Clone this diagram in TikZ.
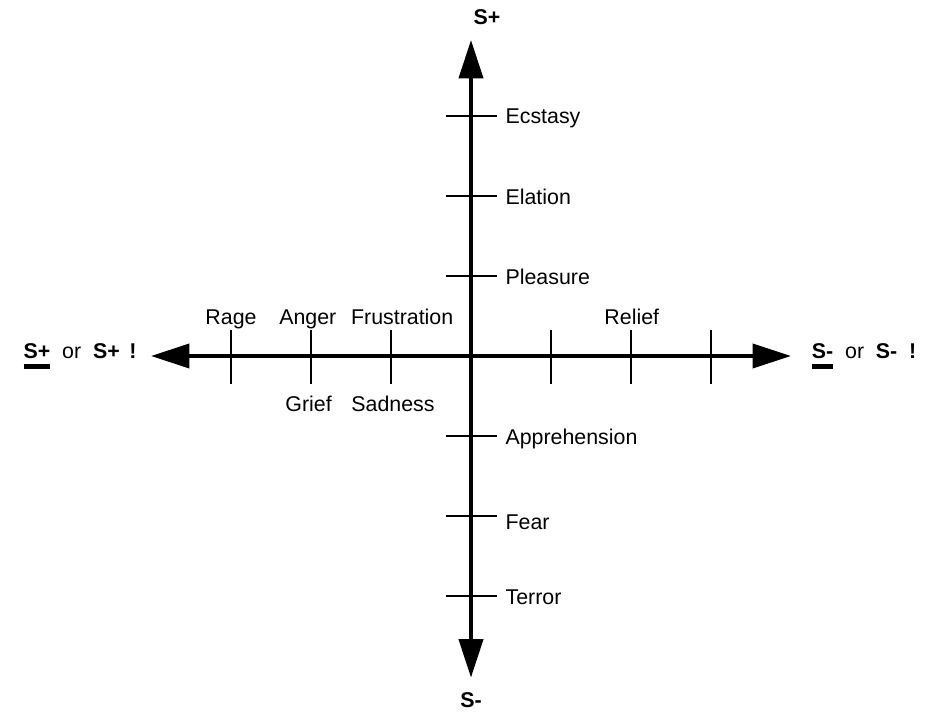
\documentclass[tikz,border=0pt]{standalone}
\usepackage{fontspec}
\setmainfont{Liberation Sans}
\usetikzlibrary{arrows.meta}

\newcommand\ulbar[1]{\setbox0\hbox{#1}\rlap{\rule[-3.8pt]{\wd0}{1.7pt}}\box0\relax}
\newcommand\gap{\hspace{4.2pt}}

\begin{document}
\begin{tikzpicture}[font=\fontsize{7.6}{9}\selectfont,
    axis/.style={line width=1.4pt, {Triangle[length=4.8mm,width=3mm]}-{Triangle[length=4.8mm,width=3mm]}},
    ticklines/.style={line width=0.45pt},
    lbl/.style={inner sep=1pt}]

    \useasboundingbox (-5.8875,-4.4375) rectangle (5.8,4.45);

    % axes
    \coordinate (xl) at (-4,0);
    \coordinate (xr) at (4,0);
    \coordinate (yt) at (0,3.95);
    \coordinate (yb) at (0,-4.02);
    \draw[axis] (xl) -- (xr);
    \draw[axis] (yb) -- (yt);

    % tick marks
    \foreach \x in {-3,-2,-1,1,2,3}
        \draw[ticklines] (\x,-0.35) -- (\x,0.32);
    \foreach \y in {-3,-2,-1,1,2,3}
        \draw[ticklines] (-0.31,\y) -- (0.32,\y);

    % axis ends
    \node[lbl, font=\fontsize{7.6}{9}\selectfont\bfseries] (splus) at (0.2,4.24) {S+};
    \node[lbl, font=\fontsize{7.6}{9}\selectfont\bfseries] (sminus) at (0,-4.3) {S-};
    \node[lbl, anchor=east] (left) at (-4.14,0) {\ulbar{\textbf{S+}}\gap or\gap\textbf{S+}\hspace{3.4pt}\textbf{!}};
    \node[lbl, anchor=west] (right) at (4.22,0) {\ulbar{\textbf{S-}}\gap or\gap\textbf{S-}\gap\textbf{!}};

    % vertical labels
    \node[lbl, anchor=base west] (ecstasy) at (0.39,2.9) {Ecstasy};
    \node[lbl, anchor=base west] (elation) at (0.39,1.9) {Elation};
    \node[lbl, anchor=base west] (pleasure) at (0.39,0.9) {Pleasure};
    \node[lbl, anchor=base west] (apprehension) at (0.39,-1.1) {Apprehension};
    \node[lbl, anchor=base west] (fear) at (0.39,-2.17) {Fear};
    \node[lbl, anchor=base west] (terror) at (0.39,-3.1) {Terror};

    % horizontal labels
    \node[lbl, anchor=base] (rage) at (-3,0.39) {Rage};
    \node[lbl, anchor=base] (anger) at (-2.04,0.39) {Anger};
    \node[lbl, anchor=base] (frustration) at (-0.86,0.39) {Frustration};
    \node[lbl, anchor=base] (relief) at (2.01,0.39) {Relief};
    \node[lbl, anchor=base] (grief) at (-2.03,-0.69) {Grief};
    \node[lbl, anchor=base] (sadness) at (-0.975,-0.69) {Sadness};
\end{tikzpicture}
\end{document}
